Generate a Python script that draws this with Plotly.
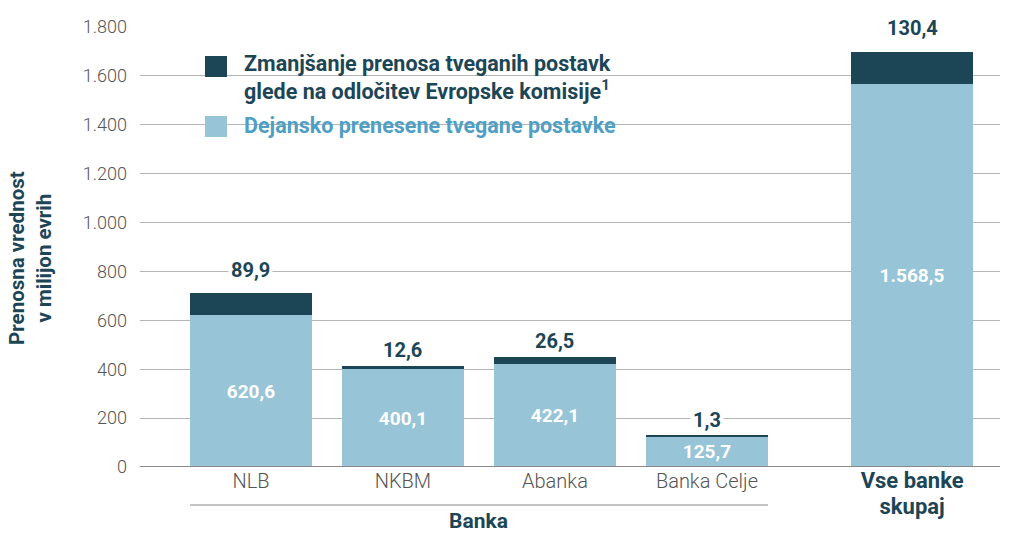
import plotly.graph_objects as go

categories = ["NLB", "NKBM", "Abanka", "Banka Celje", "Vse banke skupaj"]
positions = [0, 1, 2, 3, 4.35]
actual = [620.6, 400.1, 422.1, 125.7, 1568.5]
reduction = [89.9, 12.6, 26.5, 1.3, 130.4]
yticks = [0, 200, 400, 600, 800, 1000, 1200, 1400, 1600, 1800]

DARK = "#1c4656"
LIGHT = "#97c4d6"
LIGHT_TXT = "#4f9fc4"
GRAY = "#555555"
FONT = "Roboto"

def fmt(v):
    s = f"{v:,.1f}"
    return s.replace(",", "X").replace(".", ",").replace("X", ".")

fig = go.Figure()
fig.add_trace(go.Bar(
    x=positions, y=actual, width=0.803, marker=dict(color=LIGHT, line=dict(width=0)),
    text=[fmt(v) for v in actual], textposition="inside", insidetextanchor="middle",
    textfont=dict(color="white", size=19, family=FONT, weight="bold"),
    showlegend=False, hoverinfo="skip"))
fig.add_trace(go.Bar(
    x=positions, y=reduction, width=0.803, marker=dict(color=DARK, line=dict(width=0)),
    showlegend=False, hoverinfo="skip", textposition="none"))

shifts = [8, 1, 1, 1, 9]
for p, a, r, s in zip(positions, actual, reduction, shifts):
    fig.add_annotation(x=p, y=a + r, text=f"<b>{fmt(r)}</b>", showarrow=False,
                       yanchor="bottom", yshift=s, bgcolor="white", borderpad=2,
                       font=dict(color=DARK, size=20, family=FONT))

ticktext = []
for c in categories[:4]:
    ticktext.append(c)
ticktext.append(f"<span style='color:{DARK};font-size:22px;font-weight:bold'>Vse banke<br>skupaj</span>")

fig.update_layout(
    width=1011, height=533, barmode="stack", bargap=0,
    margin=dict(l=140, r=11, t=27, b=66),
    plot_bgcolor="white", paper_bgcolor="white",
    separators=",.",
    font=dict(family=FONT, color=GRAY),
    xaxis=dict(range=[-0.730, 4.928], tickvals=positions, ticktext=ticktext,
               showgrid=False, zeroline=False, showline=False, ticks="",
               tickfont=dict(size=20, color=GRAY, family=FONT, weight=300)),
    yaxis=dict(range=[0, 1800], tickvals=yticks, tickformat=",d",
               showgrid=True, gridcolor="#b5b5b5", gridwidth=1,
               zeroline=False, showline=False, ticks="",
               tickfont=dict(size=18, color=GRAY, family=FONT, weight=300), ticklabelstandoff=12),
)

# baseline
fig.add_shape(type="line", xref="paper", yref="y", x0=0, x1=1, y0=0, y1=0,
              line=dict(color="#8a8a8a", width=2), layer="above")
# group line under the four banks
fig.add_shape(type="line", xref="x", yref="paper", x0=-0.4015, x1=3.4015,
              y0=-0.0864, y1=-0.0864, line=dict(color="#8a8a8a", width=1.2))
fig.add_annotation(x=1.5, xref="x", y=-0.1227, yref="paper", text="<b>Banka</b>",
                   showarrow=False, xanchor="center", yanchor="middle",
                   font=dict(color=DARK, size=21, family=FONT))

# y axis title
fig.add_annotation(x=-0.128, xref="paper", y=0.475, yref="paper",
                   text="<b>Prenosna vrednost<br>v milijon evrih</b>", textangle=-90,
                   xanchor="center", yanchor="middle",
                   showarrow=False, font=dict(color=DARK, size=20.5, family=FONT))

# legend
fig.add_shape(type="rect", xref="paper", yref="paper",
              x0=(205-140)/860, x1=(227-140)/860, y0=(467-77)/440, y1=(467-56)/440,
              fillcolor=DARK, line=dict(width=0))
fig.add_shape(type="rect", xref="paper", yref="paper",
              x0=(205-140)/860, x1=(227-140)/860, y0=(467-137)/440, y1=(467-116)/440,
              fillcolor=LIGHT, line=dict(width=0))
fig.add_annotation(x=(242-140)/860, xref="paper", y=(467-77)/440, yref="paper",
                   text="<b>Zmanjšanje prenosa tveganih postavk<br>glede na odločitev Evropske komisije<sup>1</sup></b>",
                   showarrow=False, xanchor="left", yanchor="middle", align="left",
                   font=dict(color=DARK, size=21.5, family=FONT))
fig.add_annotation(x=(242-140)/860, xref="paper", y=(467-126)/440, yref="paper",
                   text="<b>Dejansko prenesene tvegane postavke</b>",
                   showarrow=False, xanchor="left", yanchor="middle", align="left",
                   font=dict(color=LIGHT_TXT, size=21.5, family=FONT))

fig.write_html("out.html")
